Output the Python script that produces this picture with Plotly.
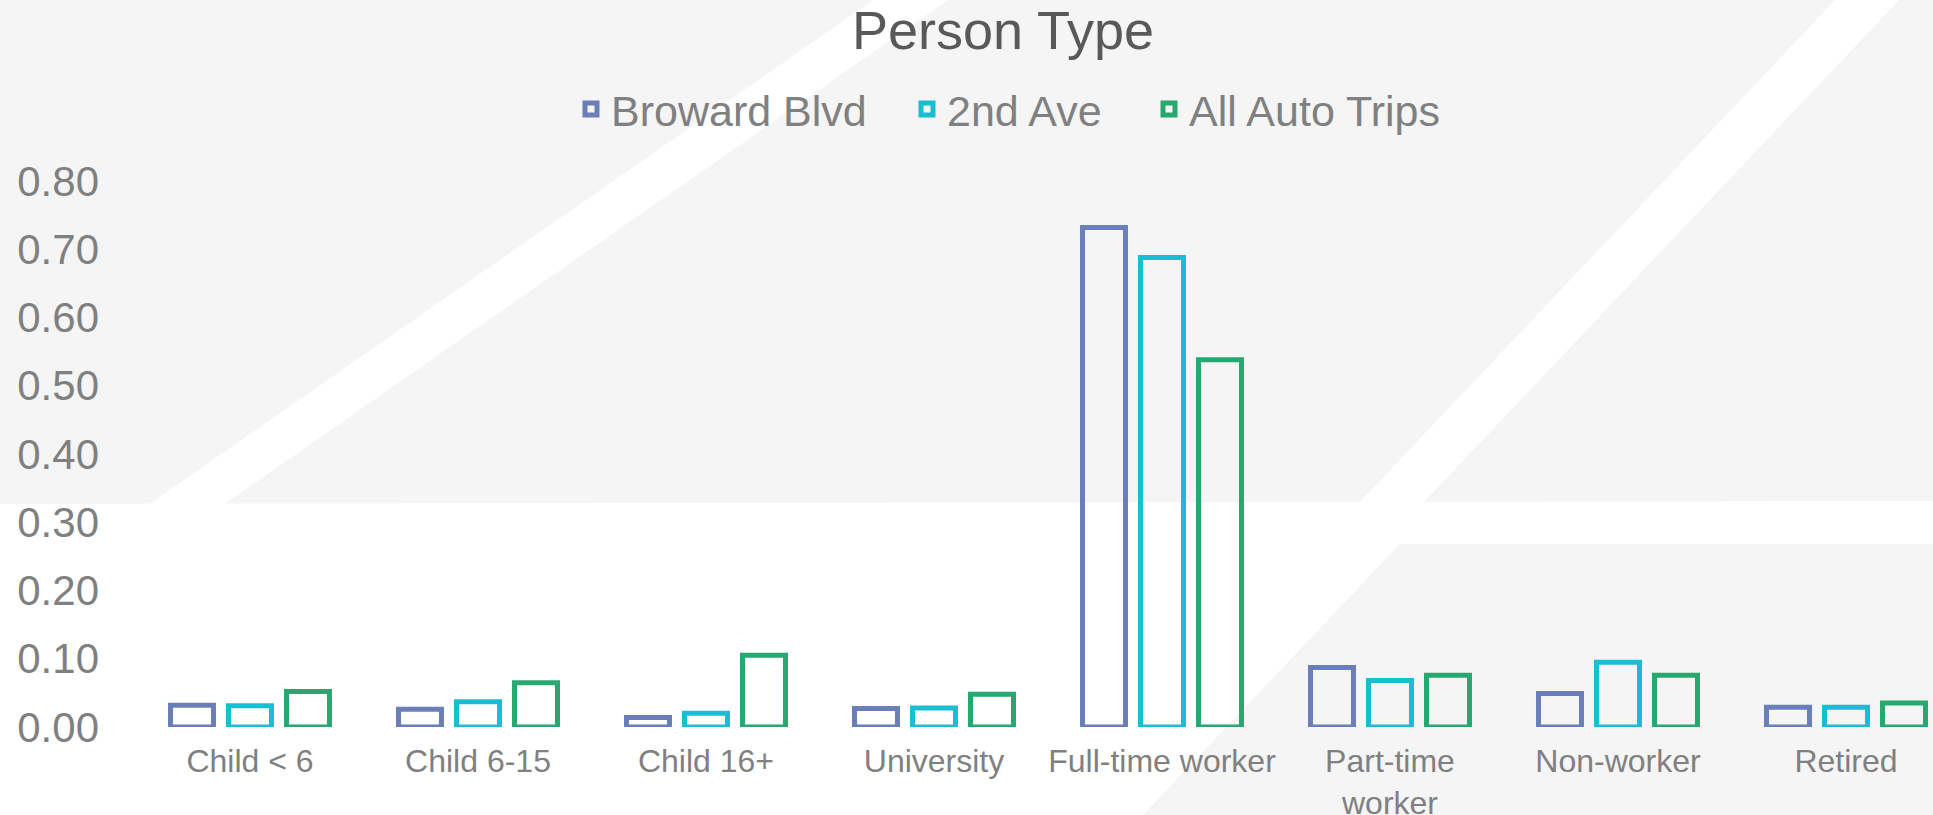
import plotly.graph_objects as go

# ---- data ----
categories = ["Child < 6", "Child 6-15", "Child 16+", "University",
              "Full-time worker", "Part-time<br>worker", "Non-worker", "Retired"]
series_names = ["Broward Blvd", "2nd Ave", "All Auto Trips"]
broward = [0.032, 0.026, 0.014, 0.027, 0.732, 0.087, 0.049, 0.029]
second_ave = [0.031, 0.037, 0.020, 0.028, 0.688, 0.068, 0.095, 0.029]
all_auto = [0.052, 0.065, 0.105, 0.048, 0.538, 0.076, 0.076, 0.035]
y_ticks = [0.0, 0.1, 0.2, 0.3, 0.4, 0.5, 0.6, 0.7, 0.8]
colors = ["#6A7EB9", "#19BED5", "#27A870"]

# ---- figure geometry (pixels) ----
W, H = 1933, 815
L, R, T, B = 136, 0, 181, 88
plot_w = W - L - R
plot_h = H - T - B
cat_px = 228.0
x_max = -0.5 + plot_w / cat_px

def px(x):
    return (x - L) / plot_w

def py(y):
    return (H - B - y) / plot_h

def poly(points):
    return "M " + " L ".join(f"{px(x):.5f},{py(y):.5f}" for x, y in points) + " Z"

GREY = "#F5F5F5"
bg_shapes = [
    dict(type="path", path=poly([(-2, -2), (W + 2, -2), (W + 2, 501), (-2, 504)]),
         xref="paper", yref="paper", fillcolor=GREY, line=dict(width=0), layer="below"),
    dict(type="path", path=poly([(876, -2), (951, -2), (223, 505), (148, 505)]),
         xref="paper", yref="paper", fillcolor="white", line=dict(width=0), layer="below"),
    dict(type="path", path=poly([(1837, -2), (1901, -2), (1423, 503), (1359, 503)]),
         xref="paper", yref="paper", fillcolor="white", line=dict(width=0), layer="below"),
    dict(type="path", path=poly([(1400, 544), (W + 2, 544), (W + 2, H + 2), (1141, H + 2)]),
         xref="paper", yref="paper", fillcolor=GREY, line=dict(width=0), layer="below"),
]

FONT = "Liberation Sans, Arial, sans-serif"
legend_ids = ["legend", "legend2", "legend3"]
legend_text_x = [611, 947, 1189]   # left edge of each legend text (px)

fig = go.Figure()
for name, vals, c, lid in zip(series_names, [broward, second_ave, all_auto], colors, legend_ids):
    fig.add_trace(go.Bar(
        name=name, x=categories, y=vals,
        marker=dict(color="rgba(0,0,0,0)", line=dict(color=c, width=5)),
        cliponaxis=False, legend=lid, showlegend=True,
    ))

legend_common = dict(orientation="h", xanchor="left", xref="container",
                     y=1 - 109 / H, yanchor="middle", yref="container",
                     font=dict(family=FONT, size=43, color="#808080"),
                     bgcolor="rgba(0,0,0,0)", visible=True)
legends = {lid: dict(legend_common, x=(tx - 40) / W) for lid, tx in zip(legend_ids, legend_text_x)}

fig.update_layout(
    width=W, height=H,
    margin=dict(l=L, r=R, t=T, b=B, autoexpand=False),
    paper_bgcolor="white",
    plot_bgcolor="rgba(0,0,0,0)",
    showlegend=True,
    barmode="group",
    bargap=0.2368,
    bargroupgap=0.259,
    shapes=bg_shapes,
    font=dict(family=FONT, color="#808080"),
    title=dict(text="Person Type", font=dict(family=FONT, size=54, color="#595959"),
               x=1003 / W, xref="container", xanchor="center",
               y=1 - 30 / H, yref="container", yanchor="middle"),
    xaxis=dict(range=[-0.5, x_max], showgrid=False, zeroline=False, showline=False,
               ticks="", tickfont=dict(family=FONT, size=32, color="#808080"),
               ticklabelstandoff=12, automargin=False, fixedrange=True),
    yaxis=dict(range=[0, 0.8], tickvals=y_ticks, tickformat=".2f",
               showgrid=False, zeroline=False, showline=False, ticks="",
               tickfont=dict(family=FONT, size=42, color="#808080"),
               ticklabelstandoff=36, automargin=False, fixedrange=True),
    **legends,
)

fig.write_html("out.html",
               config={"displayModeBar": False},
               post_script="document.body.style.margin='0px';document.body.style.overflow='hidden';")
